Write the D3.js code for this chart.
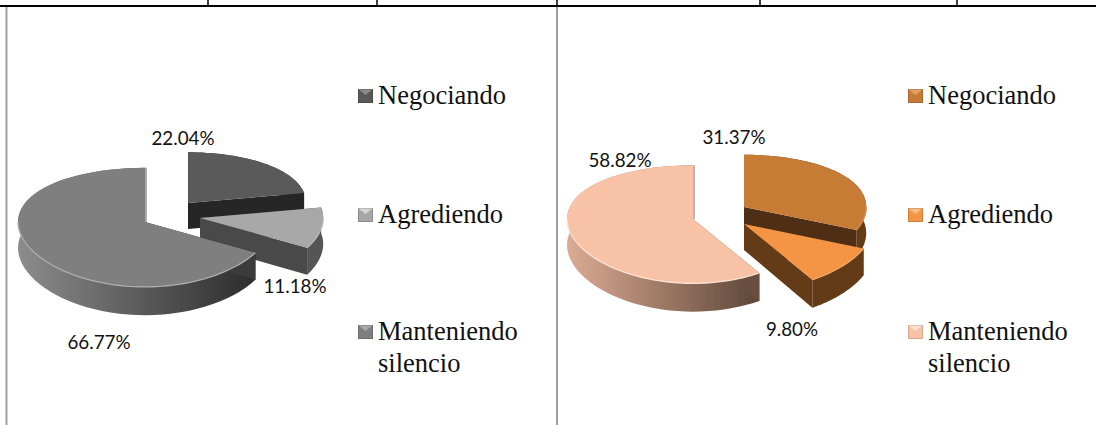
<!DOCTYPE html>
<html lang="es">
<head>
<meta charset="UTF-8">
<title>Negociando, Agrediendo, Manteniendo silencio</title>
<script src="https://d3js.org/d3.v7.min.js"></script>
<style>
    html, body { margin: 0; padding: 0; background: #fff; overflow: hidden; }
    .legend-text { font-family: "Liberation Serif", serif; font-size: 26.5px; fill: #111; }
    .pct-label { font-family: Lato, sans-serif; font-size: 18.8px; fill: #111; text-anchor: middle; }
</style>
</head>
<body>
<div id="chart-container"></div>
<script>
// Data
const categories = ['Negociando', 'Agrediendo', 'Manteniendo silencio'];
const valuesLeft = [22.04, 11.18, 66.77];
const valuesRight = [31.37, 9.80, 58.82];

const width = 1096, height = 425;

// Slice pull-out in px, and slice scale
const panels = [
    {
        id: 'l', values: valuesLeft, cx: 145, cy: 222, rx: 127, ry: 59.5,
        explode: [{ dx: 43, dy: -19, s: 0.93 }, { dx: 55, dy: -4, s: 0.97 }, { dx: 0, dy: 0, s: 1 }],
        top: ['#5a5a5a', '#a8a8a8', '#7f7f7f'],
        rim: ['#6a6a6a', '#b8b8b8', '#adadad'],
        cutWall: ['#262626', '#4a4a4a', '#3a3a3a'],
        outer: [['#3a3a3a', '#333'], ['#5c5c5c', '#555'], ['#8c8c8c', '#2c2c2c']],
        swatch: ['#595959', '#a6a6a6', '#7f7f7f'],
        swatchHi: ['#8a8a8a', '#d6d6d6', '#a8a8a8'],
        legendX: 358,
        labels: [[183, 145], [295, 293], [99, 349]]
    },
    {
        id: 'r', values: valuesRight, cx: 693, cy: 219, rx: 126, ry: 59,
        explode: [{ dx: 51, dy: -12, s: 0.97 }, { dx: 51, dy: 5, s: 1.03 }, { dx: 0, dy: 0, s: 1 }],
        top: ['#c77b36', '#f39544', '#f8c2a6'],
        rim: ['#d48c4a', '#f7a865', '#fde2d3'],
        cutWall: ['#4f2d12', '#633a18', '#6b5040'],
        outer: [['#633a18', '#633a18'], ['#633a18', '#633a18'], ['#dcab93', '#5c4638']],
        swatch: ['#c77b36', '#f39544', '#f8c2a6'],
        swatchHi: ['#e3a165', '#fbbd85', '#fde2d3'],
        legendX: 908,
        labels: [[734, 144], [792, 336], [620, 167]]
    }
];

const legendRows = [[104], [223], [340, 372]];
const legendLines = [['Negociando'], ['Agrediendo'], ['Manteniendo', 'silencio']];

const depth = 26, persp = 0.09;
const fmt = d => d3.format('.2f')(d) + '%';

const svg = d3.select('#chart-container').append('svg')
    .attr('width', width).attr('height', height)
    .style('display', 'block');

const defs = svg.append('defs');
defs.append('filter').attr('id', 'soft')
    .attr('x', '-5%').attr('y', '-5%').attr('width', '110%').attr('height', '110%')
    .append('feGaussianBlur').attr('stdDeviation', 0.5);

// table rules
const rules = svg.append('g');
rules.append('line').attr('x1', 0).attr('x2', width).attr('y1', 6).attr('y2', 6)
    .attr('stroke', '#000').attr('stroke-width', 2);
[208, 377, 557, 760, 957].forEach(x => {
    rules.append('line').attr('x1', x).attr('x2', x).attr('y1', 0).attr('y2', 6)
        .attr('stroke', '#000').attr('stroke-width', 1.5);
});
[6.5, 557].forEach(x => {
    rules.append('line').attr('x1', x).attr('x2', x).attr('y1', 7).attr('y2', height)
        .attr('stroke', '#a0a0a0').attr('stroke-width', 2);
});

const pie = d3.pie().sort(null).value(d => d);

function drawPanel(p) {
    const g = svg.append('g').attr('filter', 'url(#soft)');
    const arcs = pie(p.values);
    // last slice closes the circle even though the percentages sum to 99.99
    arcs[arcs.length - 1].endAngle = 2 * Math.PI;

    const project = (i, theta, r, z) => {
        const e = p.explode[i];
        const wx = Math.sin(theta) * r * e.s, wy = -Math.cos(theta) * r * e.s;
        const f = 1 + persp * wy;
        return [p.cx + e.dx + wx * p.rx, p.cy + e.dy + wy * p.ry * f + z * depth * f];
    };
    const line = d3.line();
    const arcPts = (i, a0, a1, z) => d3.range(0, 61).map(t => project(i, a0 + (a1 - a0) * t / 60, 1, z));

    arcs.forEach((a, i) => {
        const grad = defs.append('linearGradient').attr('id', `wall-${p.id}-${i}`)
            .attr('gradientUnits', 'userSpaceOnUse')
            .attr('x1', project(i, 3 * Math.PI / 2, 1, 0)[0]).attr('x2', project(i, a.startAngle, 1, 0)[0])
            .attr('y1', 0).attr('y2', 0);
        grad.append('stop').attr('offset', 0).attr('stop-color', p.outer[i][0]);
        grad.append('stop').attr('offset', 1).attr('stop-color', p.outer[i][1]);

        const slice = g.append('g');
        // outer wall
        const wall = arcPts(i, a.startAngle, a.endAngle, 0).concat(arcPts(i, a.startAngle, a.endAngle, 1).reverse());
        slice.append('path').attr('d', line(wall) + 'Z').attr('fill', `url(#wall-${p.id}-${i})`);
        // cut walls
        [a.startAngle, a.endAngle].forEach(th => {
            const cut = [project(i, 0, 0, 0), project(i, th, 1, 0), project(i, th, 1, 1), project(i, 0, 0, 1)];
            slice.append('path').attr('d', line(cut) + 'Z').attr('fill', p.cutWall[i]);
        });
        // thin shadow beside the big slice's vertical cut
        if (i === arcs.length - 1) {
            slice.append('path')
                .attr('d', line([project(i, 0, 0, 0), project(i, 0, 1, 0)]))
                .attr('transform', 'translate(1,0)')
                .attr('stroke', p.cutWall[i]).attr('stroke-opacity', 0.55).attr('stroke-width', 1.6);
        }
        // top face
        const face = [project(i, 0, 0, 0)].concat(arcPts(i, a.startAngle, a.endAngle, 0));
        slice.append('path').attr('d', line(face) + 'Z').attr('fill', p.top[i]);
        // soft rim highlight on the front edge
        const rimFrom = Math.max(a.startAngle, Math.PI / 2), rimTo = Math.min(a.endAngle, 3 * Math.PI / 2);
        if (rimTo > rimFrom) {
            slice.append('path').attr('d', line(arcPts(i, rimFrom, rimTo, 0)))
                .attr('fill', 'none').attr('stroke', p.rim[i]).attr('stroke-width', 1.3);
        }
    });

    // percentage labels
    svg.append('g').selectAll('text').data(p.values).join('text')
        .attr('class', 'pct-label')
        .attr('x', (d, i) => p.labels[i][0]).attr('y', (d, i) => p.labels[i][1])
        .text(d => fmt(d));

    // legend
    const leg = svg.append('g');
    categories.forEach((c, i) => {
        const base = legendRows[i][0];
        const sx = p.legendX, sy = base - 15;
        leg.append('rect').attr('x', sx).attr('y', sy).attr('width', 15).attr('height', 14).attr('fill', p.swatch[i]);
        leg.append('path').attr('d', line([[sx, sy], [sx + 15, sy], [sx + 7.5, sy + 6]]) + 'Z').attr('fill', p.swatchHi[i]);
        leg.append('rect').attr('x', sx + .5).attr('y', sy + .5).attr('width', 14).attr('height', 13)
            .attr('fill', 'none').attr('stroke', '#000').attr('stroke-opacity', .15);
        legendLines[i].forEach((t, j) => {
            leg.append('text').attr('class', 'legend-text')
                .attr('x', sx + 20).attr('y', legendRows[i][j]).text(t);
        });
    });
}

panels.forEach(drawPanel);
</script>
</body>
</html>
